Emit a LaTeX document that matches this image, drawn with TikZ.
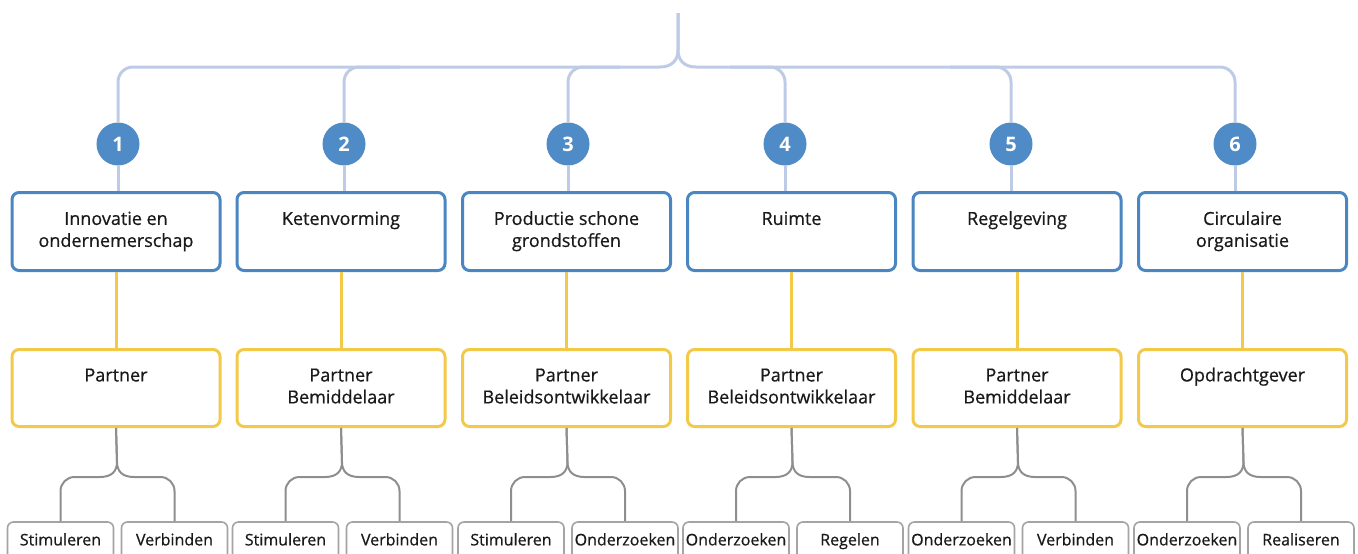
\documentclass[tikz,border=0pt]{standalone}
\usepackage{fontspec}
\setmainfont{Open Sans}
\newfontfamily\bodyfont{Open Sans}[FakeBold=0.6]
\usetikzlibrary{calc}
\definecolor{boxblue}{HTML}{4A86C2}
\definecolor{circblue}{HTML}{4F8BC6}
\definecolor{lineblue}{HTML}{BECBE6}
\definecolor{boxyellow}{HTML}{F3C94A}
\definecolor{linegray}{HTML}{8E8E8E}
\definecolor{boxgray}{HTML}{A4A4A4}
\definecolor{txt}{HTML}{1A1A1A}
\tikzset{
  bluebox/.style={draw=boxblue, line width=3pt, fill=white, rounded corners=7pt,
    minimum width=208pt, minimum height=78pt, inner sep=0pt, align=center,
    font=\bodyfont\fontsize{18}{22}\selectfont, text=txt},
  yellowbox/.style={draw=boxyellow, line width=3pt, fill=white, rounded corners=7pt,
    minimum width=208pt, minimum height=77pt, inner sep=0pt, align=center,
    font=\bodyfont\fontsize{18}{22}\selectfont, text=txt},
  graybox/.style={draw=boxgray, line width=1.6pt, fill=white, rounded corners=6pt,
    minimum width=106pt, minimum height=38pt, inner sep=0pt,
    font=\bodyfont\fontsize{16}{22}\selectfont, text=txt},
  numcirc/.style={circle, fill=circblue, minimum size=43pt, inner sep=0pt,
    text=white, font=\fontsize{20}{22}\selectfont\bfseries},
  blueline/.style={draw=lineblue, line width=3pt},
  yellowline/.style={draw=boxyellow, line width=3pt},
  grayline/.style={draw=linegray, line width=2pt},
}
\begin{document}
\begin{tikzpicture}[x=1pt,y=-1pt]
\useasboundingbox (0,0) rectangle (1358,554);
\clip (0,0) rectangle (1358,554);

\foreach \i/\c/\cx/\btxt/\ytxt/\ltxt/\rtxt in {
  1/116/118/{Innovatie en\strut\\ondernemerschap\strut}/{Partner\strut\\\strut}/Stimuleren/Verbinden,
  2/341/344/{Ketenvorming\strut\\\strut}/{Partner\strut\\Bemiddelaar\strut}/Stimuleren/Verbinden,
  3/566.5/568/{Productie schone\strut\\grondstoffen\strut}/{Partner\strut\\Beleidsontwikkelaar\strut}/Stimuleren/Onderzoeken,
  4/791.5/785/{Ruimte\strut\\\strut}/{Partner\strut\\Beleidsontwikkelaar\strut}/Onderzoeken/Regelen,
  5/1017/1011/{Regelgeving\strut\\\strut}/{Partner\strut\\Bemiddelaar\strut}/Onderzoeken/Verbinden,
  6/1242.5/1235/{Circulaire\strut\\organisatie\strut}/{Opdrachtgever\strut\\\strut}/Onderzoeken/Realiseren}
{
  \pgfmathsetmacro\L{\c-55.5}
  \pgfmathsetmacro\R{\c+58.5}
  \node[numcirc] (n\i) at (\cx,144) {\i};
  \node[bluebox] (b\i) at (\c,231.5) {\btxt};
  \node[yellowbox] (y\i) at (\c,388) {\ytxt};
  \node[graybox] (l\i) at (\L,541) {\ltxt\strut};
  \node[graybox] (r\i) at (\R,541) {\rtxt\strut};
  % circle to blue box
  \draw[blueline] (n\i.south) -- (n\i.south |- b\i.north);
  % blue box to yellow box
  \draw[yellowline] (b\i.south) -- (y\i.north);
  % gray brace
  \draw[grayline] (y\i.south) -- ({\c+1},462) .. controls ({\c+1},471) and ({\c-4},477) .. ({\c-16},477)
     [rounded corners=14pt] -- (\L,477) -- (l\i.north);
  \draw[grayline] (y\i.south) -- ({\c+1},462) .. controls ({\c+1},471) and ({\c+6},477) .. ({\c+18},477)
     [rounded corners=14pt] -- (\R,477) -- (r\i.north);
}

% top brace
\coordinate (top) at (678,13);
\coordinate (h2) at (400,67);
\coordinate (h3) at (620,67);
\coordinate (h4) at (730,67);
\coordinate (h5) at (950,67);
\draw[blueline] (top) -- (678,50) .. controls (678,60) and (672,67) .. (660,67)
   [rounded corners=15pt] -- (118,67) -- (n1.north);
\draw[blueline] (top) -- (678,50) .. controls (678,60) and (684,67) .. (696,67)
   [rounded corners=15pt] -- (1235,67) -- (n6.north);
\draw[blueline, rounded corners=15pt] (h2) -- (344,67) -- (n2.north);
\draw[blueline, rounded corners=15pt] (h3) -- (568,67) -- (n3.north);
\draw[blueline, rounded corners=15pt] (h4) -- (785,67) -- (n4.north);
\draw[blueline, rounded corners=15pt] (h5) -- (1011,67) -- (n5.north);
\end{tikzpicture}
\end{document}
